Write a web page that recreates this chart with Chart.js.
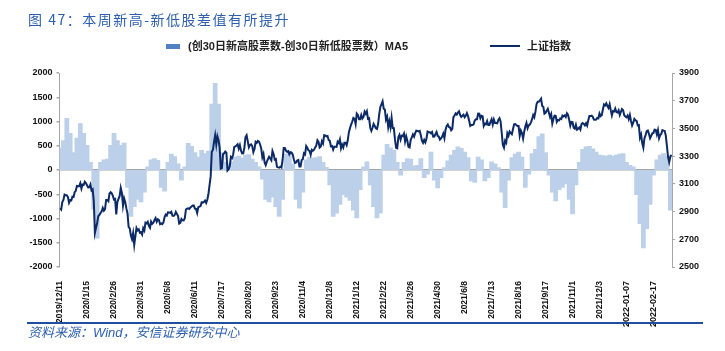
<!DOCTYPE html>
<html>
<head>
<meta charset="utf-8">
<script src="https://cdn.jsdelivr.net/npm/chart.js@4.4.1/dist/chart.umd.min.js"></script>
<style>
    body { margin: 0; background: #fff; }
    #marco { position: relative; width: 725px; height: 351px; overflow: hidden; }
    #grafica { position: absolute; left: 0; top: 0; }
    .titulo { position: absolute; left: 28px; top: 11px; font-family: "Noto Sans CJK SC", sans-serif; font-size: 14px; line-height: 16px; color: #2d5fae; letter-spacing: 1.5px; white-space: nowrap; }
    .leyenda { position: absolute; top: 40px; height: 12px; font-family: "Liberation Sans", "Noto Sans CJK SC", sans-serif; font-weight: bold; font-size: 11px; line-height: 12px; color: #222; white-space: nowrap; }
    .caja { display: inline-block; width: 14px; height: 5px; background: #4f81c4; vertical-align: middle; margin-right: 8px; margin-top: -2px; }
    .raya { display: inline-block; width: 30px; height: 2px; background: #0b2a66; vertical-align: middle; margin-right: 7px; margin-top: -2px; }
    .regla { position: absolute; left: 27px; top: 322px; width: 676px; height: 2px; background: #1f4fa0; }
    .fuente { position: absolute; left: 28px; top: 325px; font-family: "Liberation Sans", "Noto Sans CJK SC", sans-serif; font-style: italic; font-size: 13px; line-height: 15px; color: #2d5fae; white-space: nowrap; }
</style>
</head>
<body>
<div id="marco">
    <canvas id="grafica" width="725" height="351"></canvas>
    <div class="titulo">图 47：本周新高-新低股差值有所提升</div>
    <div class="leyenda" style="left:166px;"><span class="caja"></span>(创30日新高股票数-创30日新低股票数）MA5</div>
    <div class="leyenda" style="left:490px;"><span class="raya"></span>上证指数</div>
    <div class="regla"></div>
    <div class="fuente">资料来源：Wind，安信证券研究中心</div>
</div>
<script>
// Etiquetas del eje X (una cada 24 sesiones) y su posicion en sesiones
const etiquetasX = ['2019/12/11', '2020/1/15', '2020/2/26', '2020/3/31', '2020/5/8', '2020/6/11', '2020/7/17',
    '2020/8/20', '2020/9/23', '2020/11/4', '2020/12/8', '2021/1/12', '2021/2/22', '2021/3/26', '2021/4/30',
    '2021/6/8', '2021/7/13', '2021/8/16', '2021/9/17', '2021/11/1', '2021/12/3', '2022-01-07', '2022-02-17'];
const posTicks = [0, 24, 48, 72, 96, 120, 144, 168, 192, 216, 240, 264, 288, 312, 336, 360, 384, 408, 432, 456, 480, 504, 528];

// Cierre diario del 上证指数
const sh2019 = [2924, 2915, 2968, 2984, 3022, 3017, 3017, 3005, 2963, 2982, 2981, 3007, 3005, 3040, 3050];
const sh2020 = [
    3085, 3083, 3083, 3104, 3066, 3095, 3092, 3115, 3106, 3090, 3074, 3075, 3095, 3052, 3060, 2976,
    2746, 2783, 2818, 2866, 2875, 2890, 2901, 2926, 2906, 2917, 2984, 2984, 2975, 3030, 3039, 3031, 3013, 2987, 2991, 2880,
    2970, 2992, 3011, 3071, 3034, 2943, 2996, 2968, 2923, 2887, 2789, 2779, 2728, 2702, 2745, 2660, 2722, 2781, 2764, 2772, 2747, 2750,
    2734, 2780, 2764, 2820, 2815, 2826, 2797, 2783, 2827, 2811, 2819, 2838, 2853, 2827, 2844, 2838, 2809, 2815, 2810, 2822, 2860,
    2878, 2871, 2895, 2894, 2891, 2898, 2870, 2868, 2875, 2898, 2883, 2868, 2813, 2818, 2846, 2837, 2836, 2852,
    2915, 2921, 2923, 2919, 2930, 2937, 2943, 2943, 2921, 2919, 2890, 2931, 2935, 2939, 2967, 2965, 2970, 2979, 2962, 2985,
    3025, 3090, 3152, 3332, 3345, 3403, 3451, 3383, 3443, 3415, 3361, 3210, 3214, 3314, 3320, 3333, 3325, 3196, 3205, 3228, 3294, 3286, 3310,
    3367, 3371, 3377, 3386, 3354, 3379, 3340, 3319, 3320, 3360, 3438, 3451, 3408, 3364, 3381, 3385, 3373, 3329, 3351, 3404, 3396,
    3410, 3405, 3384, 3355, 3292, 3316, 3254, 3235, 3260, 3278, 3295, 3283, 3270, 3338, 3316, 3275, 3279, 3223, 3219, 3217, 3224, 3218,
    3272, 3359, 3359, 3340, 3332, 3336, 3313, 3328, 3325, 3313, 3278, 3251, 3254, 3269, 3273, 3225,
    3225, 3272, 3278, 3320, 3312, 3373, 3360, 3342, 3338, 3310, 3346, 3339, 3347, 3363, 3377, 3414, 3402, 3362, 3369, 3408, 3392,
    3451, 3449, 3442, 3445, 3417, 3410, 3371, 3373, 3347, 3369, 3367, 3366, 3404, 3395, 3421, 3357, 3383, 3363, 3397, 3397, 3379, 3414, 3473
];
const sh2021 = [
    3503, 3528, 3550, 3576, 3570, 3531, 3608, 3598, 3566, 3566, 3596, 3571, 3583, 3621, 3606, 3624, 3569, 3573, 3505, 3483,
    3505, 3533, 3517, 3501, 3496, 3532, 3603, 3655, 3675, 3696, 3642, 3636, 3564, 3585, 3509,
    3551, 3508, 3577, 3503, 3502, 3421, 3360, 3357, 3436, 3454, 3419, 3447, 3445, 3463, 3405, 3443, 3411, 3367, 3363, 3418, 3435, 3457, 3441,
    3466, 3484, 3482, 3479, 3482, 3451, 3412, 3396, 3417, 3399, 3426, 3477, 3473, 3472, 3465, 3474, 3441, 3442, 3458, 3474, 3447,
    3441, 3419, 3428, 3441, 3463, 3430, 3490, 3518, 3529, 3510, 3507, 3487, 3497, 3581, 3593, 3608, 3600, 3615,
    3624, 3597, 3584, 3592, 3599, 3580, 3591, 3610, 3590, 3556, 3518, 3525, 3525, 3529, 3557, 3566, 3566, 3607, 3606, 3573, 3591,
    3588, 3518, 3535, 3530, 3553, 3525, 3525, 3547, 3566, 3528, 3564, 3539, 3539, 3537, 3562, 3574, 3550, 3467, 3382, 3361, 3411, 3397,
    3465, 3447, 3477, 3466, 3458, 3494, 3530, 3532, 3524, 3517, 3517, 3447, 3485, 3466, 3427, 3477, 3514, 3540, 3501, 3522, 3528, 3544,
    3567, 3597, 3581, 3621, 3676, 3693, 3693, 3703, 3715, 3662, 3656, 3607, 3613, 3628, 3642, 3613, 3582, 3603, 3536, 3568,
    3592, 3591, 3547, 3561, 3558, 3572, 3568, 3593, 3587, 3594, 3582, 3609, 3597, 3562, 3519, 3547,
    3545, 3505, 3498, 3526, 3491, 3498, 3507, 3492, 3532, 3539, 3533, 3522, 3537, 3520, 3560, 3589, 3589, 3592, 3584, 3564, 3562, 3564,
    3576, 3573, 3608, 3589, 3595, 3637, 3673, 3666, 3681, 3662, 3648, 3675, 3632, 3594, 3625, 3622, 3643, 3618, 3615, 3631, 3597, 3620, 3640
];
const sh2022 = [
    3632, 3595, 3586, 3580, 3593, 3567, 3597, 3555, 3521, 3541, 3569, 3558, 3555, 3522, 3524, 3433, 3456, 3394, 3361,
    3430, 3452, 3480, 3485, 3462, 3429, 3446, 3465, 3468, 3491, 3490, 3457, 3489, 3429, 3451, 3462,
    3488, 3484, 3481, 3447, 3372, 3293, 3256, 3296, 3309
];

// (创30日新高股票数-创30日新低股票数) MA5, una lectura cada 3 sesiones
const pasoBarras = 3;
const difAltosBajos = [
    450, 600, 1060, 750, 350, 650, 950, 750, 500, 150, -800, -1400, 150, 200, 220, 500, 750, 600, 500, 550,
    -350, -950, -750, -600, -650, -450, 60, 200, 230, 190, -350, -430, 150, 320, 270, 120, -200, 60, 540, 480,
    350, 260, 400, 330, 380, 1350, 1780, 1350, 350, 150, 120, 160, 260, 280, 240, 300, 310, 220, 150, 60,
    -180, -600, -650, -550, -750, -950, -600, 320, 380, 120, -600, -780, -450, 200, 260, 240, 250, 270, 150, 50,
    -300, -950, -880, -700, -500, -550, -620, -820, -980, -400, 60, 160, -300, -750, -980, -880, 300, 520, 450, 400,
    150, -100, 150, 230, 220, 80, 90, 230, -150, -80, 360, -200, -360, -150, 40, 180, 300, 400, 470, 440,
    360, 250, -220, -250, 260, 200, -220, -150, 160, 120, 40, -450, -770, -200, 250, 320, 360, 260, -350, -80,
    330, 420, 680, 740, 350, -100, -450, -630, -400, -350, -280, -600, -900, -300, 150, 420, 470, 480, 430, 360,
    300, 290, 280, 300, 280, 300, 320, 330, 150, 90, 60, -500, -1100, -1600, -1200, -700, -100, 200, 300, 330,
    280, -820
];

// Construir los puntos {x: sesion, y: valor}
const cierres = sh2019.concat(sh2020, sh2021, sh2022);
const puntosLinea = cierres.map((v, i) => ({ x: i, y: v }));
const puntosBarras = difAltosBajos.map((v, i) => ({ x: i * pasoBarras, y: v }));
const ultimaSesion = cierres.length - 1;

const gris = '#a6a6a6';
const fuenteEje = { family: '"Liberation Sans", Arial, sans-serif', weight: 'bold', size: 9 };

const ctx = document.getElementById('grafica').getContext('2d');
new Chart(ctx, {
    data: {
        datasets: [{
            type: 'line',
            label: '上证指数',
            data: puntosLinea,
            yAxisID: 'y1',
            borderColor: '#0b2a66',
            borderWidth: 2,
            pointRadius: 0,
            tension: 0,
            order: 0  // la linea encima de las barras
        }, {
            type: 'bar',
            label: '(创30日新高股票数-创30日新低股票数）MA5',
            data: puntosBarras,
            yAxisID: 'y',
            backgroundColor: '#bcd0ea',
            borderWidth: 0,
            inflateAmount: 0.7,  // que las barras se toquen sin rayas blancas
            barPercentage: 1,
            categoryPercentage: 1,
            order: 1
        }]
    },
    options: {
        responsive: false,
        animation: false,
        devicePixelRatio: 1,
        layout: { padding: { top: 73, left: 0, right: 0, bottom: 0 } },
        plugins: { legend: { display: false }, tooltip: { enabled: false } },
        scales: {
            x: {
                type: 'linear',
                offset: false,
                min: -0.5,
                max: ultimaSesion + 0.5,
                grid: { display: false },
                border: { display: false },
                afterBuildTicks: s => { s.ticks = posTicks.map(v => ({ value: v })); },
                afterFit: s => { s.height = 84; },
                ticks: {
                    autoSkip: false,
                    maxRotation: 90,
                    minRotation: 90,
                    padding: 6,
                    color: '#111',
                    font: c => ({ family: '"Liberation Sans", Arial, sans-serif', weight: 'bold',
                                  size: (etiquetasX[c.index] || '').includes('-') ? 9 : 8.5 }),
                    callback: (v, i) => etiquetasX[i]
                }
            },
            y: {
                position: 'left',
                min: -2000,
                max: 2000,
                z: 1,
                afterFit: s => { s.width = 59.5; },
                border: { color: gris },
                grid: {
                    drawOnChartArea: true,
                    color: c => (c.tick && c.tick.value === 0) ? gris : 'rgba(0,0,0,0)',
                    lineWidth: 1.5,
                    tickColor: gris,
                    tickLength: 3
                },
                ticks: { stepSize: 500, padding: 4, color: '#111', font: fuenteEje, callback: v => String(v) }
            },
            y1: {
                position: 'right',
                min: 2500,
                max: 3900,
                afterFit: s => { s.width = 53; },
                border: { color: gris },
                grid: { drawOnChartArea: false, tickColor: gris, tickLength: 3 },
                ticks: { stepSize: 200, padding: 4, color: '#111', font: fuenteEje, callback: v => String(v) }
            }
        }
    }
});
</script>
</body>
</html>
